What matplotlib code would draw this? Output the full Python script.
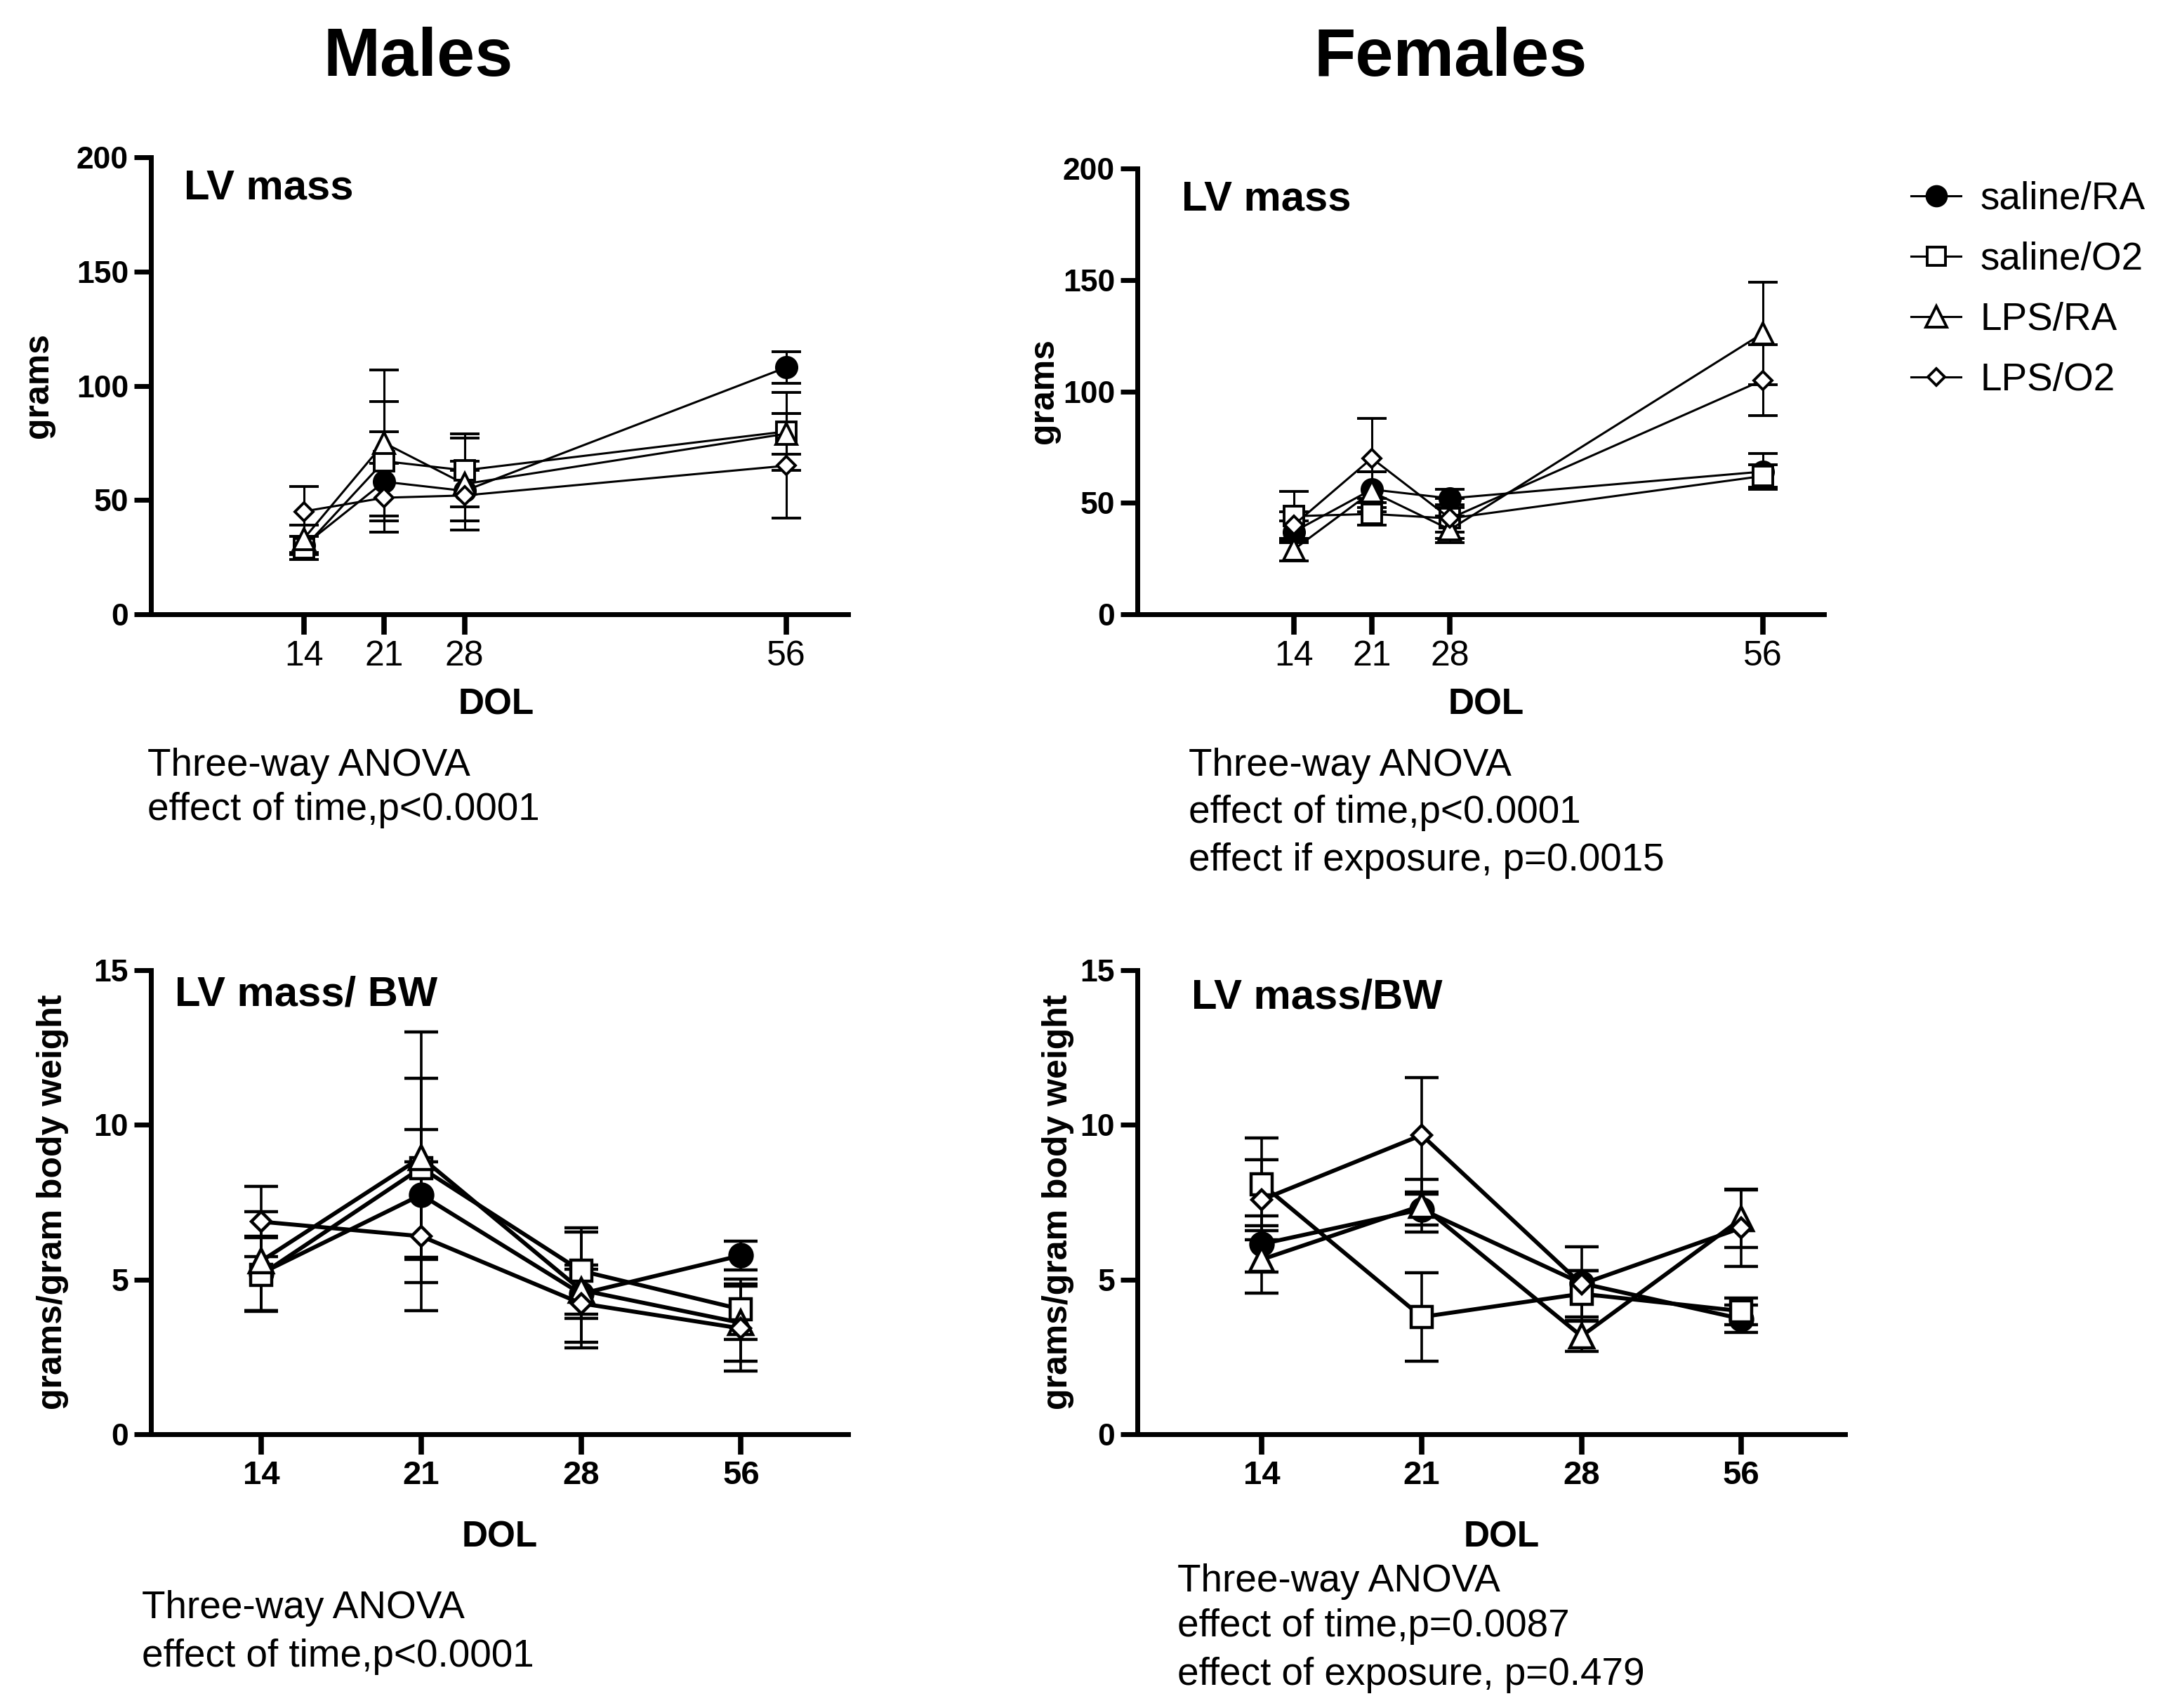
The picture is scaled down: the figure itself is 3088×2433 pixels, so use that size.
import numpy as np
import matplotlib
matplotlib.use("Agg")
import matplotlib.pyplot as plt
from matplotlib.lines import Line2D

plt.rcParams['font.family'] = ['Liberation Sans', 'DejaVu Sans']

# ---------------- data ----------------
dol = [14, 21, 28, 56]
groups = ['saline/RA', 'saline/O2', 'LPS/RA', 'LPS/O2']

# Males, LV mass (grams)
male_lv_saline_ra = [30, 58, 54, 108]
male_lv_saline_o2 = [29, 67, 63, 80]
male_lv_lps_ra = [33, 75, 57, 79]
male_lv_lps_o2 = [45, 51, 52, 65]
male_lv_err_saline_ra = [4, 22, 13, 7]
male_lv_err_saline_o2 = [5, 26, 16, 17]
male_lv_err_lps_ra = [6, 32, 20, 9]
male_lv_err_lps_o2 = [11, 15, 11, 23]

# Females, LV mass (grams)
female_lv_saline_ra = [37, 56, 52, 64]
female_lv_saline_o2 = [44, 45, 43, 62]
female_lv_lps_ra = [29, 55, 38, 126]
female_lv_lps_o2 = [40, 70, 43, 105]
female_lv_err_saline_ra = [5, 8, 4, 8]
female_lv_err_saline_o2 = [11, 5, 6, 5]
female_lv_err_lps_ra = [5, 9, 6, 23]
female_lv_err_lps_o2 = [6, 18, 9, 16]

# Males, LV mass / BW
male_bw_saline_ra = [5.2, 7.74, 4.54, 5.78]
male_bw_saline_o2 = [5.16, 8.61, 5.28, 4.04]
male_bw_lps_ra = [5.6, 8.95, 4.66, 3.6]
male_bw_lps_o2 = [6.87, 6.4, 4.23, 3.42]
male_bw_err_saline_ra = [1.2, 2.1, 0.8, 0.47]
male_bw_err_saline_o2 = [1.2, 2.9, 1.4, 0.97]
male_bw_err_lps_ra = [1.6, 4.05, 1.87, 1.25]
male_bw_err_lps_o2 = [1.13, 2.4, 1.25, 1.37]

# Females, LV mass / BW
female_bw_saline_ra = [6.15, 7.27, 4.88, 3.73]
female_bw_saline_o2 = [8.08, 3.79, 4.54, 3.98]
female_bw_lps_ra = [5.65, 7.39, 3.17, 6.96]
female_bw_lps_o2 = [7.58, 9.67, 4.85, 6.67]
female_bw_err_saline_ra = [0.9, 0.5, 0.4, 0.45]
female_bw_err_saline_o2 = [1.49, 1.43, 0.75, 0.43]
female_bw_err_lps_ra = [1.1, 0.85, 0.5, 0.93]
female_bw_err_lps_o2 = [1.3, 1.85, 1.2, 1.24]

lv_yticks = [0, 50, 100, 150, 200]
bw_yticks = [0, 5, 10, 15]

# ---------------- styles ----------------
mstyle = {
    'saline/RA': dict(marker='o', mfc='black', scale=1.0),
    'saline/O2': dict(marker='s', mfc='white', scale=0.95),
    'LPS/RA': dict(marker='^', mfc='white', scale=1.05),
    'LPS/O2': dict(marker='D', mfc='white', scale=0.62),
}

fig = plt.figure(figsize=(30.88, 24.33), dpi=100)
W, H = 3088, 2433


def axes_px(left, top, right, bottom):
    return fig.add_axes([left / W, 1 - bottom / H, (right - left) / W, (bottom - top) / H])


def style_axes(ax, ylim, yticks, xlim, xticks, xticklabels, xbold, xtick_fs):
    ax.set_ylim(*ylim)
    ax.set_yticks(yticks, labels=[str(v) for v in yticks], fontsize=32, fontweight='bold')
    ax.set_xlim(*xlim)
    ax.set_xticks(xticks, labels=xticklabels, fontsize=xtick_fs,
                  fontweight='bold' if xbold else 'normal')
    for s in ['top', 'right']:
        ax.spines[s].set_visible(False)
    for s in ['left', 'bottom']:
        ax.spines[s].set_linewidth(5)
    ax.tick_params(axis='y', length=17, width=5, direction='out', pad=6)
    ax.tick_params(axis='x', length=21, width=5.5, direction='out', pad=6)


def draw_series(ax, x, means, errs, lw, ms, mew, capsize, elw):
    for g, m, e in zip(groups, means, errs):
        st = mstyle[g]
        ax.errorbar(x, m, yerr=e, color='black', lw=lw, marker=st['marker'],
                    mfc=st['mfc'], mec='black', ms=ms * st['scale'], mew=mew,
                    ecolor='black', elinewidth=elw, capsize=capsize, capthick=elw,
                    clip_on=False)


def labels(ax, title, tx, ty, ylab, ylx, xly, xlx):
    ax.text(tx, ty, title, transform=ax.transAxes, fontsize=43,
            fontweight='bold', ha='left', va='baseline')
    ax.set_ylabel(ylab, fontsize=36, fontweight='bold')
    ax.yaxis.set_label_coords(ylx, 0.5)
    ax.yaxis.label.set_va('center')
    ax.set_xlabel('DOL', fontsize=37, fontweight='bold')
    ax.xaxis.set_label_coords(xlx, xly)
    ax.xaxis.label.set_va('center')


# ---------------- top-left: Males LV mass ----------------
ax1 = axes_px(215, 224, 1208, 875)
draw_series(ax1, dol,
            [male_lv_saline_ra, male_lv_saline_o2, male_lv_lps_ra, male_lv_lps_o2],
            [male_lv_err_saline_ra, male_lv_err_saline_o2, male_lv_err_lps_ra, male_lv_err_lps_o2],
            lw=2.2, ms=21, mew=2.8, capsize=15, elw=2.2)
style_axes(ax1, (0, 200), lv_yticks, (0.7, 61.4), dol, [str(d) for d in dol], False, 36)
labels(ax1, 'LV mass', 0.047, 0.909, 'grams', -0.161, -0.198, 0.495)

# ---------------- top-right: Females LV mass ----------------
ax2 = axes_px(1620, 240, 2598, 875)
draw_series(ax2, dol,
            [female_lv_saline_ra, female_lv_saline_o2, female_lv_lps_ra, female_lv_lps_o2],
            [female_lv_err_saline_ra, female_lv_err_saline_o2, female_lv_err_lps_ra, female_lv_err_lps_o2],
            lw=2.2, ms=21, mew=2.8, capsize=15, elw=2.2)
style_axes(ax2, (0, 200), lv_yticks, (0.0, 61.5), dol, [str(d) for d in dol], False, 36)
labels(ax2, 'LV mass', 0.064, 0.906, 'grams', -0.136, -0.203, 0.508)

# ---------------- bottom-left: Males LV mass / BW ----------------
xcat = np.arange(len(dol))
ax3 = axes_px(215, 1382, 1208, 2043)
draw_series(ax3, xcat,
            [male_bw_saline_ra, male_bw_saline_o2, male_bw_lps_ra, male_bw_lps_o2],
            [male_bw_err_saline_ra, male_bw_err_saline_o2, male_bw_err_lps_ra, male_bw_err_lps_o2],
            lw=4.2, ms=23, mew=3.2, capsize=17, elw=2.6)
style_axes(ax3, (0, 15), bw_yticks, (-0.69, 3.67), xcat, [str(d) for d in dol], True, 34)
labels(ax3, 'LV mass/ BW', 0.034, 0.923, 'grams/gram body weight', -0.141, -0.222, 0.50)

# ---------------- bottom-right: Females LV mass / BW ----------------
ax4 = axes_px(1620, 1382, 2628, 2043)
draw_series(ax4, xcat,
            [female_bw_saline_ra, female_bw_saline_o2, female_bw_lps_ra, female_bw_lps_o2],
            [female_bw_err_saline_ra, female_bw_err_saline_o2, female_bw_err_lps_ra, female_bw_err_lps_o2],
            lw=4.2, ms=23, mew=3.2, capsize=17, elw=2.6)
style_axes(ax4, (0, 15), bw_yticks, (-0.78, 3.65), xcat, [str(d) for d in dol], True, 34)
labels(ax4, 'LV mass/BW', 0.076, 0.917, 'grams/gram body weight', -0.112, -0.222, 0.515)

# ---------------- titles ----------------
fig.text(596 / W, 1 - 83 / H, 'Males', fontsize=70, fontweight='bold', ha='center', va='center')
fig.text(2066 / W, 1 - 83 / H, 'Females', fontsize=70, fontweight='bold', ha='center', va='center')

# ---------------- annotations ----------------
def note(x, ys, lines):
    for y, t in zip(ys, lines):
        fig.text(x / W, 1 - y / H, t, fontsize=39.5, ha='left', va='center')

note(210, [1091, 1154], ['Three-way ANOVA', 'effect of time,p<0.0001'])
note(1693, [1091, 1158, 1226], ['Three-way ANOVA', 'effect of time,p<0.0001',
                                'effect if exposure, p=0.0015'])
note(202, [2291, 2360], ['Three-way ANOVA', 'effect of time,p<0.0001'])
note(1677, [2253, 2317, 2386], ['Three-way ANOVA', 'effect of time,p=0.0087',
                                'effect of exposure, p=0.479'])

# ---------------- legend ----------------
handles = []
for g in groups:
    st = mstyle[g]
    handles.append(Line2D([], [], color='black', lw=2.2, marker=st['marker'],
                          mfc=st['mfc'], mec='black', ms=20 * st['scale'], mew=2.8))
fig.legend(handles, groups, loc='upper left', bbox_to_anchor=(2722 / W, 1 - 258 / H),
           frameon=False, fontsize=39.5, handlelength=1.3, handletextpad=0.5,
           labelspacing=0.62, borderpad=0, borderaxespad=0)

fig.savefig('out.png', dpi=100)
